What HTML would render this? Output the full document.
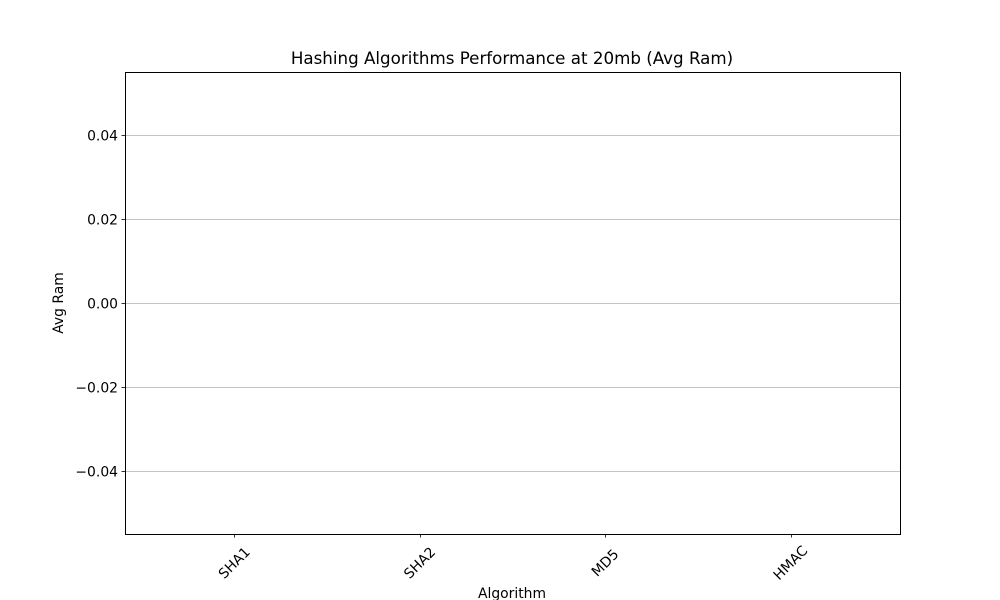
<!DOCTYPE html>
<html>
<head>
<meta charset="utf-8">
<style>
html,body{margin:0;padding:0;background:#fff;}
svg{display:block;font-family:"DejaVu Sans","Liberation Sans",sans-serif;}
</style>
</head>
<body>
<svg id="chart" width="1000" height="600" viewBox="0 0 1000 600">
  <rect x="0" y="0" width="1000" height="600" fill="#fff"/>
  <text x="512" y="64" text-anchor="middle" font-size="16.7" fill="#000">Hashing Algorithms Performance at 20mb (Avg Ram)</text>
  <g id="grid"></g>
  <g id="bars"></g>
  <rect x="125.5" y="72.5" width="775" height="462" fill="none" stroke="#000" stroke-width="1"/>
  <g id="yticks"></g>
  <g id="xticks"></g>
  <text x="63" y="303" text-anchor="middle" font-size="13.9" transform="rotate(-90 63 303)">Avg Ram</text>
  <text x="512" y="598" text-anchor="middle" font-size="13.9">Algorithm</text>
</svg>
<script>
const categories = ["SHA1", "SHA2", "MD5", "HMAC"];
const avgRam = [0, 0, 0, 0];
const yTickValues = [-0.04, -0.02, 0, 0.02, 0.04];
const yTickLabels = ["\u22120.04", "\u22120.02", "0.00", "0.02", "0.04"];

const NS = "http://www.w3.org/2000/svg";
const L = 125, R = 900, T = 72, B = 534;
const yMin = -0.055, yMax = 0.055;
const xMin = -0.59, xMax = categories.length - 1 + 0.59;
function yScale(v){ return B - (v - yMin) / (yMax - yMin) * (B - T); }
function xScale(i){ return L + (i - xMin) / (xMax - xMin) * (R - L); }
function mk(tag, attrs){ const e = document.createElementNS(NS, tag); for (const k in attrs) e.setAttribute(k, attrs[k]); return e; }

const grid = document.getElementById("grid");
const yt = document.getElementById("yticks");
yTickValues.forEach((v, i) => {
  const y = Math.round(yScale(v)) + 0.5;
  const g = mk("line", {x1: L, x2: R, y1: y, y2: y, stroke: "#b0b0b0", "stroke-width": 0.8});
  
  
  grid.appendChild(g);
  const t = mk("line", {x1: L - 3.5, x2: L, y1: y, y2: y, stroke: "#000", "stroke-width": 0.8});
  
  
  yt.appendChild(t);
  const lab = mk("text", {x: L - 7, y: y + 5, "text-anchor": "end", "font-size": 13.9});
  lab.textContent = yTickLabels[i];
  
  
  yt.appendChild(lab);
});

const bars = document.getElementById("bars");
const xt = document.getElementById("xticks");
categories.forEach((c, i) => {
  const x = xScale(i);
  const y0 = yScale(0), y1 = yScale(avgRam[i]);
  const w = 0.8 / (xMax - xMin) * (R - L);
  const b = mk("rect", {x: x - w/2, y: Math.min(y0, y1), width: w, height: Math.abs(y0 - y1), fill: "#1f77b4"});
  
  
  bars.appendChild(b);
  const t = mk("line", {x1: Math.round(x)+0.5, x2: Math.round(x)+0.5, y1: B, y2: B + 3.5, stroke: "#000", "stroke-width": 0.8});
  
  
  xt.appendChild(t);
  const cy = B + 29;
  const lab = mk("text", {x: x, y: cy + 4.5, "text-anchor": "middle", "font-size": 13.9, transform: "rotate(-45 " + x + " " + cy + ")"});
  lab.textContent = c;
  
  
  xt.appendChild(lab);
});
</script>
</body>
</html>
